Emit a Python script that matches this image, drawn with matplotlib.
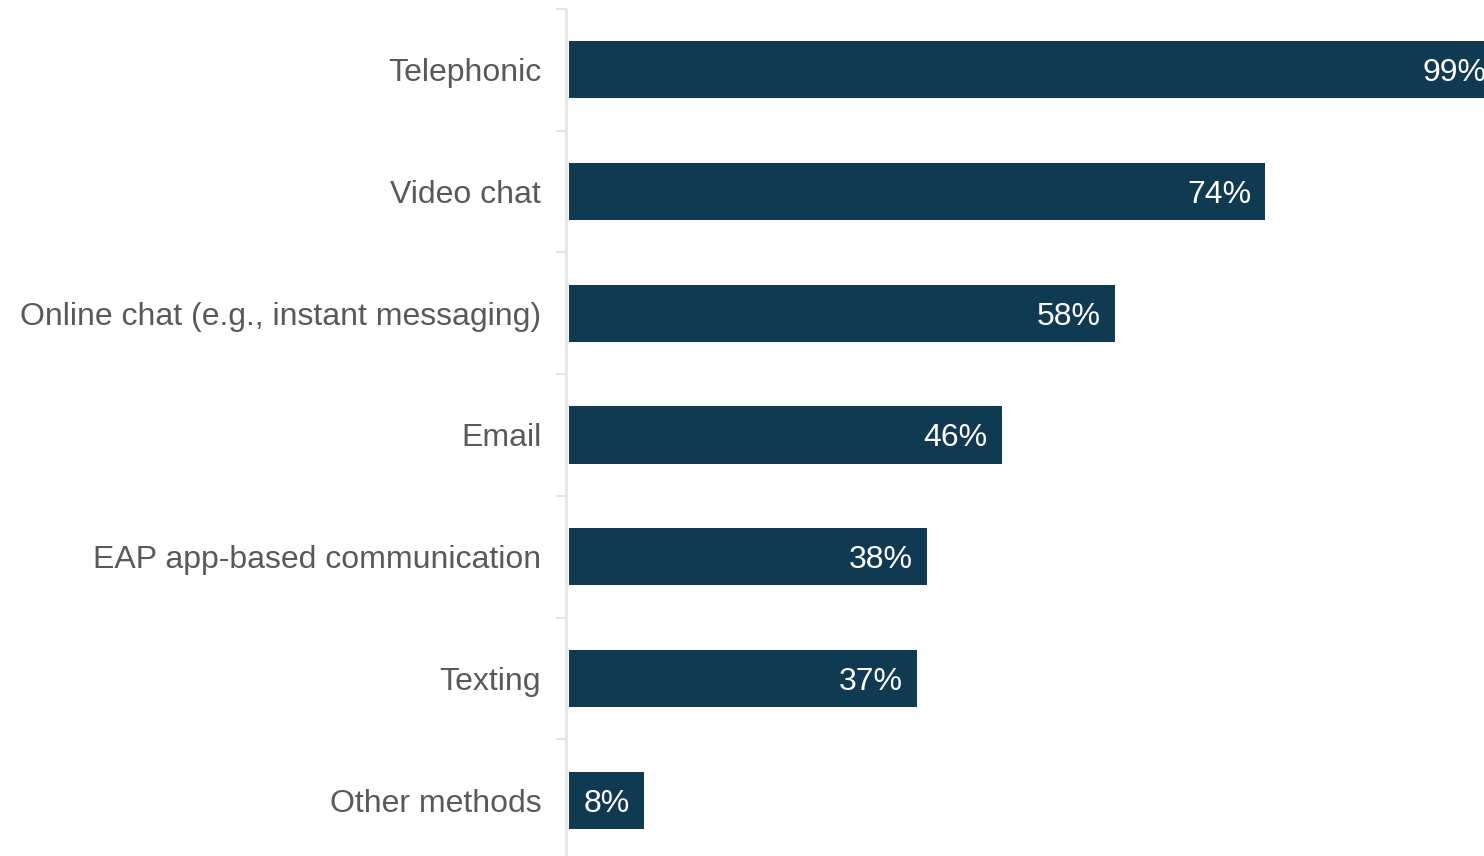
import matplotlib.pyplot as plt
import numpy as np

methods = ["Telephonic", "Video chat", "Online chat (e.g., instant messaging)",
           "Email", "EAP app-based communication", "Texting", "Other methods"]
shares = [99, 74, 58, 46, 38, 37, 8]

plt.rcParams['font.family'] = ['Liberation Sans', 'DejaVu Sans']

W, H = 1484, 856
fig = plt.figure(figsize=(W / 100, H / 100), dpi=100)
# axes spill past the right and bottom edges so the top bar gets cut off
ax = fig.add_axes([569 / W, -5 / H, 941 / W, 852 / H])

y = np.arange(len(methods))
ax.barh(y, shares, height=0.47, color='#0f3a52', zorder=2)

for yi, v in zip(y, shares):
    ax.annotate(f"{v}%", xy=(v, yi), xytext=(-14, 0), textcoords='offset pixels',
                ha='right', va='center_baseline', color='white', fontsize=23,
                annotation_clip=False)

ax.set_xlim(0, 100)
ax.set_ylim(len(methods) - 0.5, -0.5)

ax.set_yticks(np.arange(len(methods) + 1) - 0.5, minor=True)
ax.set_yticks(y, methods)
ax.tick_params(axis='y', which='major', length=0, pad=18,
               labelsize=23, labelcolor='#595959')
ax.tick_params(axis='y', which='minor', length=7, width=1.5, color='#e3e3e3')
ax.set_xticks([])

for s in ['top', 'right', 'bottom']:
    ax.spines[s].set_visible(False)
ax.spines['left'].set_color('#e3e3e3')
ax.spines['left'].set_linewidth(1.8)
ax.spines['left'].set_position(('outward', 2))

fig.savefig('out.png', dpi=100)
